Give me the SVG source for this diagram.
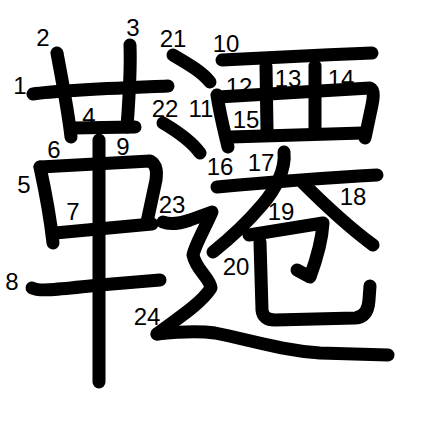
<svg xmlns="http://www.w3.org/2000/svg" width="447" height="447" viewBox="0 0 447 447">
<style>
.s{fill:none;stroke:#000;stroke-width:13;stroke-linecap:round;stroke-linejoin:round}
.n{font-family:"Liberation Sans",Arial,sans-serif;font-size:24px;fill:#000;text-anchor:middle}
</style>
<rect width="447" height="447" fill="#fff"/>
<g id="labels">
<text class="n" x="20" y="94">1</text>
<text class="n" x="43" y="46">2</text>
<text class="n" x="133" y="36">3</text>
<text class="n" x="89" y="125">4</text>
<text class="n" x="24" y="193">5</text>
<text class="n" x="54" y="158">6</text>
<text class="n" x="73" y="220">7</text>
<text class="n" x="12" y="290">8</text>
<text class="n" x="123" y="155">9</text>
<text class="n" x="226" y="52">10</text>
<text class="n" x="201" y="117">11</text>
<text class="n" x="239" y="95">12</text>
<text class="n" x="288" y="87">13</text>
<text class="n" x="341" y="87">14</text>
<text class="n" x="246" y="128">15</text>
<text class="n" x="220" y="175">16</text>
<text class="n" x="261" y="171">17</text>
<text class="n" x="353" y="205">18</text>
<text class="n" x="281" y="220">19</text>
<text class="n" x="236" y="275">20</text>
<text class="n" x="173" y="47">21</text>
<text class="n" x="165" y="117">22</text>
<text class="n" x="172" y="213">23</text>
<text class="n" x="147" y="325">24</text>
</g>
<g id="strokes">
<path id="s1" class="s" d="M33,94 C60,90 120,88 168,86"/>
<path id="s2" class="s" d="M57,53 C62,80 68,110 71,137"/>
<path id="s3" class="s" d="M130,45 C131,70 129,100 127,127"/>
<path id="s4" class="s" d="M72,128 L135,127"/>
<path id="s5" class="s" d="M40,167 C45,190 50,215 53,243"/>
<path id="s6" class="s" d="M40,167 L150,161 C157,165 157,172 156,180 L147,222"/>
<path id="s7" class="s" d="M55,233 L152,224"/>
<path id="s8" class="s" d="M32,288 C40,292 60,289 100,285 L160,280"/>
<path id="s9" class="s" d="M99,140 L99,382"/>
<path id="s10" class="s" d="M222,60 C260,58 320,55 372,53"/>
<path id="s11" class="s" d="M217,95 C220,115 224,130 228,147"/>
<path id="s12" class="s" d="M218,97 L370,88 C375,90 373,100 372,105 L365,138"/>
<path id="s13" class="s" d="M266,66 L267,130"/>
<path id="s14" class="s" d="M315,66 L315,128"/>
<path id="s15" class="s" d="M230,137 L363,133"/>
<path id="s16" class="s" d="M217,187 C260,183 320,178 377,175"/>
<path id="s17" class="s" d="M284,152 C286,170 275,190 262,205 C245,225 228,240 213,252"/>
<path id="s18" class="s" d="M303,183 C325,205 350,228 373,245"/>
<path id="s19" class="s" d="M249,235 L323,223 C322,240 317,258 310,277 L297,270"/>
<path id="s20" class="s" d="M260,242 L262,310 Q263,320 275,320 L355,318 Q368,317 369,300 L370,286"/>
<path id="s21" class="s" d="M173,55 C190,65 202,72 210,82"/>
<path id="s22" class="s" d="M163,123 C180,133 192,142 200,153"/>
<path id="s23" class="s" d="M163,222 C170,225 178,224 190,220 L212,212 C205,228 195,245 193,255 C196,270 210,278 211,288 C200,305 175,320 157,334"/>
<path id="s24" class="s" d="M157,334 C175,332 195,330 215,333 C250,340 280,350 320,353 L388,355"/>
</g>
</svg>
